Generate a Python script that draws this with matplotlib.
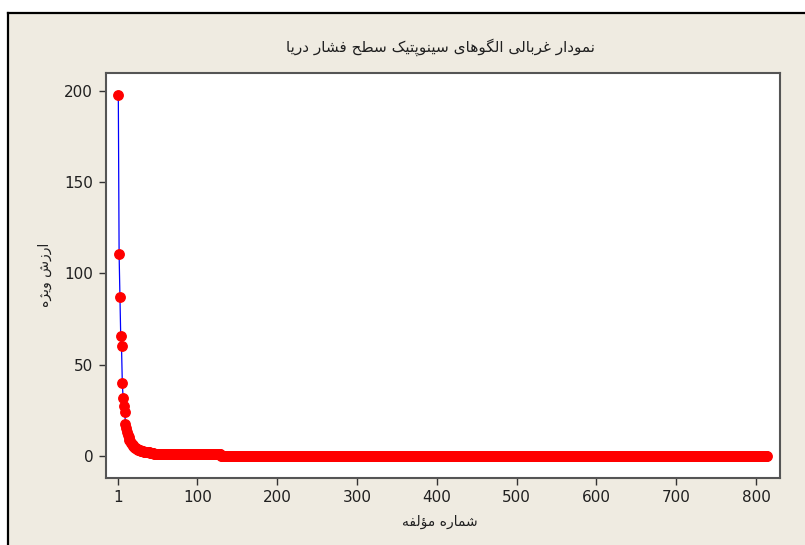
import matplotlib
matplotlib.use('Agg')
import matplotlib.pyplot as plt
from matplotlib.lines import Line2D
from matplotlib.patches import Rectangle

# eigenvalues (first components), then the two flat runs
head_values = [197.6, 110.4, 87.2, 65.9, 60.2, 40.1, 31.9, 27.5, 24.3, 17.5,
               15.5, 13.0, 11.5, 10.2, 9.0, 8.0, 7.2, 6.5, 5.9, 5.4,
               5.0, 4.6, 4.3, 4.0, 3.7, 3.5, 3.3, 3.1, 2.9, 2.8,
               2.7, 2.6, 2.5, 2.4, 2.3, 2.2, 2.1, 2.1, 2.0, 2.0,
               1.9, 1.9, 1.8, 1.8, 1.7]
mid_value, mid_count = 1.2, 84
tail_value, tail_count = 0.25, 685

values = head_values + [mid_value] * mid_count + [tail_value] * tail_count
components = list(range(1, len(values) + 1))

x_ticks = [1, 100, 200, 300, 400, 500, 600, 700, 800]
y_ticks = [0, 50, 100, 150, 200]

title_text = 'نمودار غربالی الگوهای سینوپتیک سطح فشار دریا'
x_label = 'شماره مؤلفه'
y_label = 'ارزش ویژه'

# presentation forms: isolated, final, initial, medial
FORMS = {
    'ا': ('\uFE8D', '\uFE8E', None, None),
    'ب': ('\uFE8F', '\uFE90', '\uFE91', '\uFE92'),
    'پ': ('\uFB56', '\uFB57', '\uFB58', '\uFB59'),
    'ت': ('\uFE95', '\uFE96', '\uFE97', '\uFE98'),
    'ح': ('\uFEA1', '\uFEA2', '\uFEA3', '\uFEA4'),
    'د': ('\uFEA9', '\uFEAA', None, None),
    'ر': ('\uFEAD', '\uFEAE', None, None),
    'ز': ('\uFEAF', '\uFEB0', None, None),
    'ژ': ('\uFB8A', '\uFB8B', None, None),
    'س': ('\uFEB1', '\uFEB2', '\uFEB3', '\uFEB4'),
    'ش': ('\uFEB5', '\uFEB6', '\uFEB7', '\uFEB8'),
    'ط': ('\uFEC1', '\uFEC2', '\uFEC3', '\uFEC4'),
    'غ': ('\uFECD', '\uFECE', '\uFECF', '\uFED0'),
    'ف': ('\uFED1', '\uFED2', '\uFED3', '\uFED4'),
    'ک': ('\uFB8E', '\uFB8F', '\uFB90', '\uFB91'),
    'گ': ('\uFB92', '\uFB93', '\uFB94', '\uFB95'),
    'ل': ('\uFEDD', '\uFEDE', '\uFEDF', '\uFEE0'),
    'م': ('\uFEE1', '\uFEE2', '\uFEE3', '\uFEE4'),
    'ن': ('\uFEE5', '\uFEE6', '\uFEE7', '\uFEE8'),
    'ه': ('\uFEE9', '\uFEEA', '\uFEEB', '\uFEEC'),
    'و': ('\uFEED', '\uFEEE', None, None),
    'ؤ': ('\uFE85', '\uFE86', None, None),
    'ی': ('\uFBFC', '\uFBFD', '\uFBFE', '\uFBFF'),
}


def shape(text):
    out = []
    for i, ch in enumerate(text):
        if ch not in FORMS:
            out.append(ch)
            continue
        prev = text[i - 1] if i > 0 else ''
        nxt = text[i + 1] if i + 1 < len(text) else ''
        join_prev = prev in FORMS and FORMS[prev][2] is not None
        join_next = FORMS[ch][2] is not None and nxt in FORMS
        iso, fin, ini, med = FORMS[ch]
        if join_prev and join_next:
            out.append(med)
        elif join_prev:
            out.append(fin)
        elif join_next:
            out.append(ini)
        else:
            out.append(iso)
    return ''.join(out)[::-1]


bg = '#EFEBE1'
fig = plt.figure(figsize=(8.05, 5.45), dpi=100, facecolor='white')

# beige panel with black left/top frame
fig.patches.append(Rectangle((8 / 805, 0), 1, 1 - 13 / 545, transform=fig.transFigure,
                             facecolor=bg, edgecolor='none', zorder=-10))
fig.lines.append(Line2D([8 / 805, 8 / 805], [0, 1 - 13 / 545], transform=fig.transFigure,
                        color='black', lw=1.6))
fig.lines.append(Line2D([8 / 805, 1], [1 - 13 / 545, 1 - 13 / 545], transform=fig.transFigure,
                        color='black', lw=1.6))

ax = fig.add_axes([105.7 / 805, 1 - 478 / 545, (780 - 105.7) / 805, (478 - 73) / 545])
ax.set_facecolor('white')

ax.plot(components, values, color='#0000FF', lw=0.9, zorder=2)
ax.plot(components, values, ls='none', marker='o', ms=6.8, color='#FF0000',
        markeredgecolor='#FF0000', zorder=3)

ax.set_xlim(-14.8, 830)
ax.set_ylim(-12.0, 209.7)
ax.set_xticks(x_ticks)
ax.set_yticks(y_ticks)
ax.tick_params(direction='out', length=5, width=1, color='#333333',
               labelsize=11, labelcolor='#202020', pad=4)
for s in ax.spines.values():
    s.set_color('#555555')
    s.set_linewidth(1.5)

fig.text(440 / 805, 1 - 47 / 545, shape(title_text), ha='center', va='center',
         fontsize=11, family='DejaVu Sans', color='#202020')
fig.text(440 / 805, 1 - 522 / 545, shape(x_label), ha='center', va='center',
         fontsize=10, family='DejaVu Sans', color='#202020')
fig.text(45 / 805, 1 - 275 / 545, shape(y_label), ha='center', va='center',
         rotation=90, fontsize=10, family='DejaVu Sans', color='#202020')

plt.savefig('out.png', dpi=100, facecolor=fig.get_facecolor())
